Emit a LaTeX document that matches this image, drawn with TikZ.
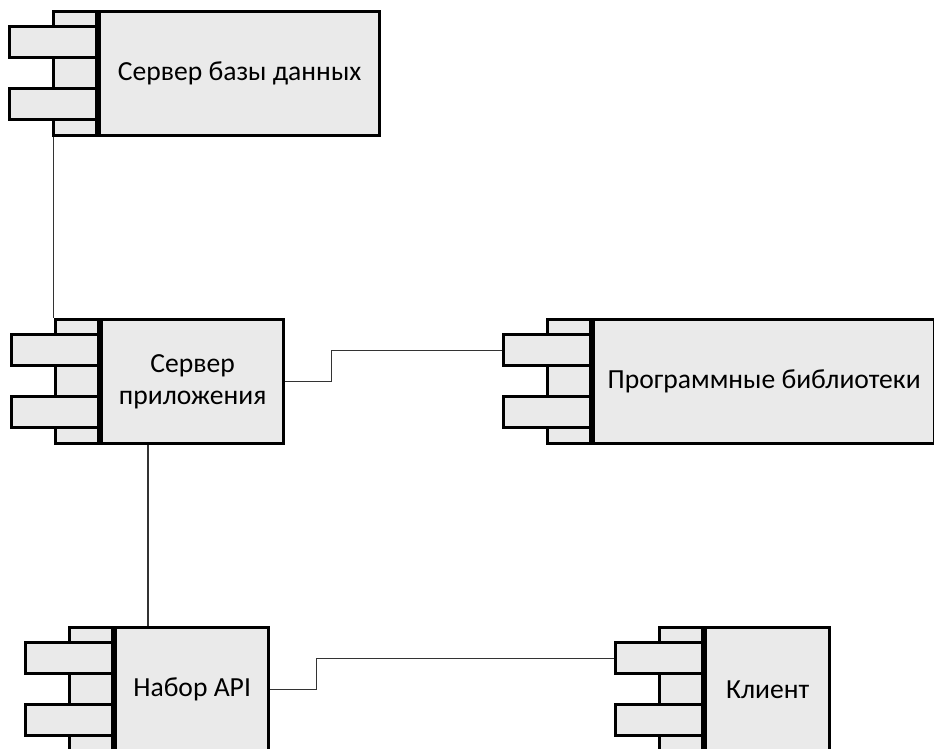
\documentclass[tikz,border=0pt]{standalone}
\usepackage{fontspec}
\setmainfont{Carlito}
\usepackage{tikz}

\definecolor{compfill}{HTML}{EAEAEA}

\newcommand{\umlcomp}[5]{%
  \node[cstrip,anchor=north east] (#1-s) at (#2,#3) {};
  \node[ctab,anchor=north east] (#1-t1) at (#2,#3+15) {};
  \node[ctab,anchor=north east] (#1-t2) at (#2,#3+77) {};
  \node[cbody,anchor=north west,minimum width=#4] (#1) at (#2,#3) {#5};
}

\begin{document}
\begin{tikzpicture}[x=1pt,y=-1pt,font=\fontsize{27.6}{32}\selectfont,
  cstrip/.style={draw,fill=compfill,line width=3.3pt,minimum width=43,minimum height=124,inner sep=0pt},
  ctab/.style={draw,fill=compfill,line width=3.3pt,minimum width=87,minimum height=31,inner sep=0pt},
  cbody/.style={draw,fill=compfill,line width=3.3pt,minimum height=124,inner sep=0pt,align=center},
  link/.style={draw=black!80,line width=1.2pt}]
  \useasboundingbox (0,0) rectangle (934,749);
  \umlcomp{db}{98}{10}{280}{Сервер базы данных}
  \umlcomp{app}{100}{318}{182}{Сервер\\приложения}
  \umlcomp{libs}{592}{318}{341}{Программные библиотеки}
  \umlcomp{api}{114}{626}{153}{Набор API}
  \umlcomp{client}{704}{626}{124}{Клиент}
  \draw[link] ([xshift=2]db-s.south west) -- ([xshift=2]db-s.south west |- app-s.north);
  \draw[link] ([xshift=48]app.south west) -- ([xshift=48]app.south west |- api.north);
  \draw[link] (app.east) -- ++(46,0) |- (libs-t1.west);
  \draw[link] (api.east) -- ++(46,0) |- (client-t1.west);
\end{tikzpicture}
\end{document}
